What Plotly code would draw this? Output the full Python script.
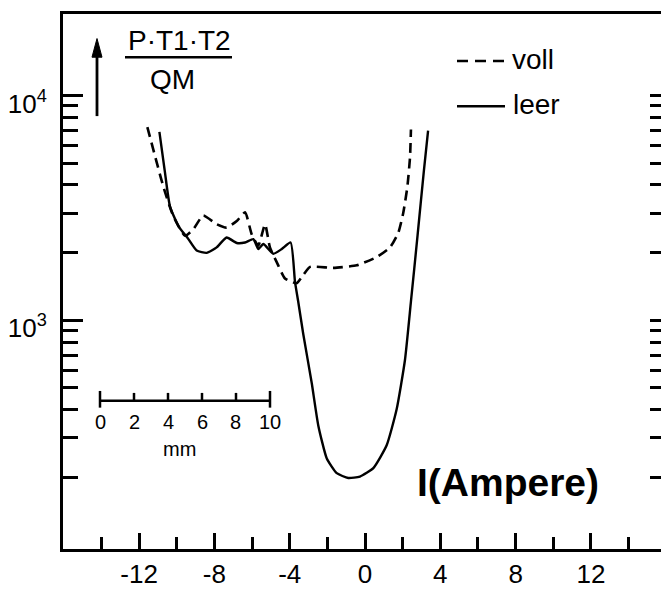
import plotly.graph_objects as go

# ---- data ----
current_leer = [-10.92, -10.64, -10.36, -9.91, -9.38, -8.94, -8.41, -7.88, -7.35, -6.81,
                -6.37, -5.93, -5.67, -5.40, -4.87, -4.42, -3.95, -3.72, -3.54, -3.28,
                -2.83, -2.48, -2.03, -1.50, -0.89, -0.27, 0.44, 1.15, 1.68, 2.12,
                2.44, 2.79, 3.13, 3.35]
ratio_leer = [6890, 4645, 3213, 2625, 2296, 2042, 1995, 2110, 2334, 2206,
              2218, 2296, 2075, 2183, 1977, 2075, 2218, 1485, 1200, 869,
              526, 340, 243, 209, 199, 202, 220, 278, 402, 664,
              1213, 2377, 4656, 6966]

current_voll = [-11.56, -10.71, -10.18, -9.56, -9.12, -8.59, -7.88, -7.35, -6.81, -6.37,
                -6.02, -5.67, -5.31, -5.05, -4.69, -4.25, -3.63, -3.28, -2.92, -1.68,
                -0.44, 0.62, 1.33, 1.77, 2.03, 2.25, 2.39, 2.44]
ratio_voll = [7230, 3930, 2904, 2377, 2541, 2924, 2674, 2583, 2763, 3020,
              2415, 2148, 2674, 2110, 1815, 1535, 1462, 1589, 1727, 1710,
              1757, 1910, 2110, 2455, 3000, 3930, 5310, 7050]

x_major = [-12, -8, -4, 0, 4, 8, 12]
x_major_text = ["-12", "-8", "-4", "0", "4", "8", "12"]
x_minor = [-14, -10, -6, -2, 2, 6, 10, 14]
y_major = [1000, 10000]
y_major_text = ["10<sup>3</sup>", "10<sup>4</sup>"]
y_minor = [200, 300, 400, 500, 600, 700, 800, 900,
           2000, 3000, 4000, 5000, 6000, 7000, 8000, 9000]
y_all = y_minor + y_major

scale_mm = [0, 2, 4, 6, 8, 10]

W, H = 661, 589
L, R, T, B = 63, 0, 14, 30
FONT = "Liberation Sans, Arial, sans-serif"


def px(X):
    return (X - L) / (W - L - R)


def py(Y):
    return (H - B - Y) / (H - T - B)


fig = go.Figure()
fig.add_trace(go.Scatter(x=current_voll, y=ratio_voll, mode="lines",
                         line=dict(color="black", width=2.6, dash="10px,6px",
                                   shape="spline", smoothing=0.5),
                         name="voll", showlegend=False))
fig.add_trace(go.Scatter(x=current_leer, y=ratio_leer, mode="lines",
                         line=dict(color="black", width=2.4, shape="spline", smoothing=0.5),
                         name="leer", showlegend=False))
# invisible trace for right-side ticks
fig.add_trace(go.Scatter(x=[0], y=[1000], yaxis="y2", mode="markers",
                         marker=dict(opacity=0), showlegend=False, hoverinfo="skip"))

shapes = []
annotations = []

# fraction label with arrow
annotations.append(dict(xref="paper", yref="paper", x=px(179), y=py(41), text="P·T1·T2",
                        showarrow=False, font=dict(size=28, family=FONT, color="black"),
                        xanchor="center", yanchor="middle"))
shapes.append(dict(type="line", xref="paper", yref="paper", x0=px(125), x1=px(232),
                   y0=py(58), y1=py(58), line=dict(color="black", width=2.5)))
annotations.append(dict(xref="paper", yref="paper", x=px(172), y=py(81), text="QM",
                        showarrow=False, font=dict(size=28, family=FONT, color="black"),
                        xanchor="center", yanchor="middle"))
shapes.append(dict(type="line", xref="paper", yref="paper", x0=px(97), x1=px(97),
                   y0=py(118), y1=py(54), line=dict(color="black", width=2.8)))
shapes.append(dict(type="path", xref="paper", yref="paper",
                   path="M {:.5f},{:.5f} L {:.5f},{:.5f} L {:.5f},{:.5f} Z".format(
                       px(97), py(39), px(92), py(58), px(102), py(58)),
                   fillcolor="black", line=dict(color="black", width=1)))

# legend (drawn manually)
shapes.append(dict(type="line", xref="paper", yref="paper", x0=px(457), x1=px(505),
                   y0=py(62), y1=py(62), line=dict(color="black", width=2.5, dash="11px,7px")))
annotations.append(dict(xref="paper", yref="paper", x=px(510), y=py(60), text="voll",
                        showarrow=False, font=dict(size=28, family=FONT, color="black"),
                        xanchor="left", yanchor="middle"))
shapes.append(dict(type="line", xref="paper", yref="paper", x0=px(457), x1=px(505),
                   y0=py(108), y1=py(108), line=dict(color="black", width=2.5)))
annotations.append(dict(xref="paper", yref="paper", x=px(511), y=py(106), text="leer",
                        showarrow=False, font=dict(size=28, family=FONT, color="black"),
                        xanchor="left", yanchor="middle"))

# axis title
annotations.append(dict(xref="paper", yref="paper", x=px(508), y=py(491),
                        text="<b>I(Ampere)</b>",
                        showarrow=False, font=dict(size=39, family=FONT, color="black"),
                        xanchor="center", yanchor="middle"))

# inset mm scale bar
bx0, bx1, by = 100, 270, 408
shapes.append(dict(type="line", xref="paper", yref="paper", x0=px(bx0), x1=px(bx1),
                   y0=py(by), y1=py(by), line=dict(color="black", width=2.5)))
for mm in scale_mm:
    X = bx0 + (bx1 - bx0) * mm / scale_mm[-1]
    if mm in (scale_mm[0], scale_mm[-1]):
        y0, y1 = 398, 415
    else:
        y0, y1 = 400, 408
    shapes.append(dict(type="line", xref="paper", yref="paper", x0=px(X), x1=px(X),
                       y0=py(y0), y1=py(y1), line=dict(color="black", width=2.5)))
    annotations.append(dict(xref="paper", yref="paper", x=px(X), y=py(430), text=str(mm),
                            showarrow=False, font=dict(size=20, family=FONT, color="black"),
                            xanchor="center", yanchor="middle"))
annotations.append(dict(xref="paper", yref="paper", x=px(179), y=py(457), text="mm",
                        showarrow=False, font=dict(size=20, family=FONT, color="black"),
                        xanchor="center", yanchor="middle"))

fig.update_layout(
    width=W, height=H,
    margin=dict(l=L, r=R, t=T, b=B, pad=0),
    paper_bgcolor="white", plot_bgcolor="white",
    font=dict(family=FONT, color="black", size=26),
    showlegend=False,
    shapes=shapes,
    annotations=annotations,
    xaxis=dict(
        range=[-16.04, 15.72], showgrid=False, zeroline=False,
        showline=True, linecolor="black", linewidth=3, mirror=True,
        ticks="inside", ticklen=16, tickwidth=2.5, tickcolor="black",
        tickvals=x_major, ticktext=x_major_text,
        tickfont=dict(size=26, family=FONT, color="black"),
        minor=dict(tickvals=x_minor, ticks="inside", ticklen=12, tickwidth=2.5,
                   tickcolor="black", showgrid=False),
    ),
    yaxis=dict(
        type="log", range=[1.983, 4.362], showgrid=False, zeroline=False,
        showline=True, linecolor="black", linewidth=3, mirror=False,
        ticks="inside", ticklen=20, tickwidth=2.5, tickcolor="black",
        tickvals=y_major, ticktext=y_major_text,
        tickfont=dict(size=26, family=FONT, color="black"),
        ticklabelstandoff=8, ticklabelshift=8,
        minor=dict(tickvals=y_minor, ticks="inside", ticklen=15, tickwidth=2.5,
                   tickcolor="black", showgrid=False),
    ),
    yaxis2=dict(
        type="log", range=[1.983, 4.362], overlaying="y", side="right",
        showgrid=False, zeroline=False, showline=False,
        ticks="inside", ticklen=11, tickwidth=2.5, tickcolor="black",
        tickvals=y_all, showticklabels=False,
    ),
)

fig.write_html("out.html")
